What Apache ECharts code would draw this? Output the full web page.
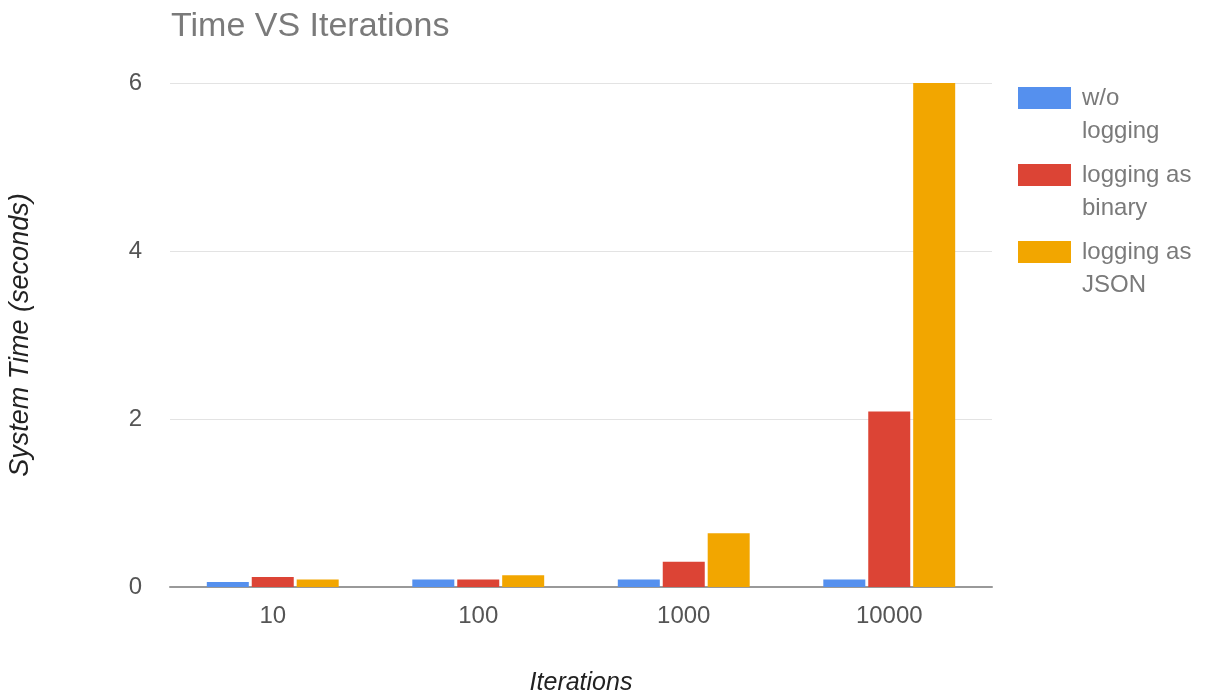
<!DOCTYPE html>
<html>
<head>
<meta charset="utf-8">
<script src="https://cdn.jsdelivr.net/npm/echarts@6/dist/echarts.min.js"></script>
<style>
  html, body { margin: 0; padding: 0; background: #fff; }
  #chart { width: 1217px; height: 700px; }
</style>
</head>
<body>
<div id="chart"></div>
<script>
'use strict';

// chart data
let iterations = ['10', '100', '1000', '10000'];
let withoutLogging = [0.06, 0.09, 0.09, 0.09];
let loggingBinary = [0.12, 0.09, 0.30, 2.09];
let loggingJson = [0.09, 0.14, 0.64, 6.0];
let seriesNames = ['w/o\nlogging', 'logging as\nbinary', 'logging as\nJSON'];
let yTicks = [0, 2, 4, 6];

let colors = ['#5590ee', '#dc4435', '#f2a600'];
let font = 'Liberation Sans, Arial, sans-serif';

// legend icon: rect on the first line of a two-line label
let legendIcon = 'path://M0 5H53V27H0Z M0 0H0.01V0.01H0Z M0 66H0.01V65.99H0Z';

let makeBar = function(name, data, color){
    return {
        name: name,
        type: 'bar',
        data: data,
        barWidth: 42,
        barGap: '7%',
        itemStyle: {color: color},
        emphasis: {disabled: true}
    };
};

let myChart = echarts.init(document.getElementById('chart'));
let option = {
    animation: false,
    title: {
        text: 'Time VS Iterations',
        left: 166,
        top: 5,
        textStyle: {
            fontFamily: font,
            fontSize: 34,
            fontWeight: 'normal',
            color: '#7a7a7a'
        }
    },
    legend: {
        orient: 'vertical',
        left: 1013,
        top: 77,
        itemWidth: 53,
        itemHeight: 66,
        itemGap: 11,
        icon: legendIcon,
        textStyle: {
            fontFamily: font,
            fontSize: 24,
            lineHeight: 33,
            color: '#7a7a7a',
            padding: [0, 0, 0, 6]
        },
        data: seriesNames
    },
    grid: {
        left: 170,
        right: 225,
        top: 83,
        bottom: 113,
        outerBoundsMode: 'none',
        containLabel: false
    },
    xAxis: {
        type: 'category',
        data: iterations,
        name: 'Iterations',
        nameLocation: 'middle',
        nameGap: 84,
        nameTextStyle: {
            fontFamily: font,
            fontSize: 25,
            fontStyle: 'italic',
            color: '#222'
        },
        axisLine: {lineStyle: {color: '#999', width: 2}},
        axisTick: {show: false},
        axisLabel: {
            fontFamily: font,
            fontSize: 24,
            color: '#555',
            margin: 17
        }
    },
    yAxis: {
        type: 'value',
        min: 0,
        max: 6,
        interval: 2,
        name: 'System Time (seconds)',
        nameLocation: 'middle',
        nameGap: 136,
        nameTextStyle: {
            fontFamily: font,
            fontSize: 27,
            fontStyle: 'italic',
            color: '#222'
        },
        axisLine: {show: false},
        axisTick: {show: false},
        splitLine: {lineStyle: {color: '#e3e3e3', width: 1}},
        axisLabel: {
            fontFamily: font,
            fontSize: 24,
            color: '#555',
            margin: 28,
            formatter: function(v){
                return yTicks.indexOf(v) >= 0 ? String(v) : '';
            }
        }
    },
    series: [
        makeBar(seriesNames[0], withoutLogging, colors[0]),
        makeBar(seriesNames[1], loggingBinary, colors[1]),
        makeBar(seriesNames[2], loggingJson, colors[2])
    ]
};
myChart.setOption(option);
</script>
</body>
</html>
